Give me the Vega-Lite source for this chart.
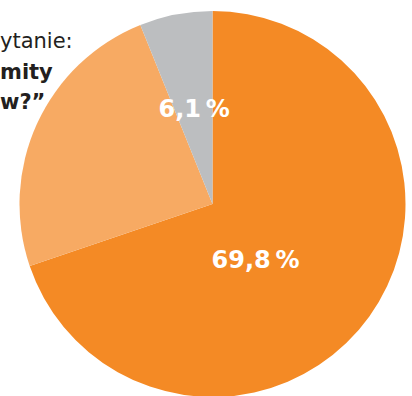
{
  "$schema": "https://vega.github.io/schema/vega-lite/v6.json",
  "width": 425,
  "height": 408,
  "autosize": "none",
  "padding": 0,
  "background": "white",
  "view": {"stroke": null},
  "title": {
    "text": "ytanie:",
    "subtitle": ["mity", "w?”"],
    "anchor": "start",
    "frame": "group",
    "orient": "top",
    "offset": -113,
    "font": "DejaVu Sans",
    "fontSize": 21,
    "fontWeight": "normal",
    "color": "#231f20",
    "subtitleFont": "DejaVu Sans",
    "subtitleFontSize": 21,
    "subtitleFontWeight": "bold",
    "subtitleColor": "#231f20",
    "subtitleLineHeight": 30,
    "subtitlePadding": 10
  },
  "data": {
    "values": [
      {"category": "A", "order": 1, "share": 69.8, "label": "69,8\u2009%"},
      {"category": "B", "order": 2, "share": 24.1, "label": "24,1\u2009%"},
      {"category": "C", "order": 3, "share": 6.1, "label": "6,1\u2009%"}
    ]
  },
  "encoding": {
    "theta": {"field": "share", "type": "quantitative", "stack": true},
    "order": {"field": "order", "type": "quantitative"}
  },
  "layer": [
    {
      "mark": {"type": "arc", "outerRadius": 193},
      "encoding": {
        "color": {
          "field": "category",
          "type": "nominal",
          "scale": {"domain": ["A", "B", "C"], "range": ["#f48a25", "#f7aa63", "#bcbec0"]},
          "legend": null
        }
      }
    },
    {
      "mark": {"type": "text", "radius": 71.5, "dx": -15, "dy": 15, "font": "DejaVu Sans", "fontSize": 24, "fontWeight": "bold", "color": "white"},
      "encoding": {
        "text": {"condition": {"test": "datum.category === 'A'", "field": "label"}, "value": ""}
      }
    },
    {
      "mark": {"type": "text", "radius": 96, "font": "DejaVu Sans", "fontSize": 24, "fontWeight": "bold", "color": "white"},
      "encoding": {
        "text": {"condition": {"test": "datum.category === 'C'", "field": "label"}, "value": ""}
      }
    }
  ]
}
